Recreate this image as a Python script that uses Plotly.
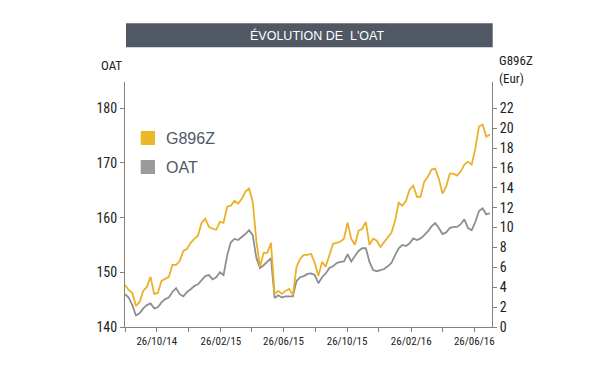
import plotly.graph_objects as go
import pandas as pd

start_date = "2014-08-26"
n_obs = 101
dates = pd.date_range(start_date, periods=n_obs, freq="7D")

g896z = [4.23, 3.73, 3.43, 2.12, 2.52, 3.63, 4.03, 5.04, 3.33, 3.43,
         4.64, 4.84, 5.04, 6.25, 6.25, 6.65, 7.66, 7.86, 8.47, 8.87,
         9.17, 10.48, 10.89, 10.08, 9.88, 9.78, 10.58, 10.48, 12.10, 12.20,
         12.70, 12.40, 12.90, 13.61, 13.91, 12.60, 8.67, 6.05, 7.46, 7.46,
         8.47, 3.33, 3.63, 3.33, 3.63, 3.83, 3.23, 6.05, 6.85, 7.26,
         7.26, 7.36, 6.45, 5.14, 6.55, 6.05, 7.16, 8.37, 8.47, 8.57,
         8.87, 10.48, 8.87, 8.27, 9.68, 9.88, 10.58, 8.27, 8.87, 8.67,
         8.06, 8.57, 9.07, 9.48, 10.69, 12.50, 12.20, 12.70, 13.81, 14.21,
         13.10, 13.10, 14.62, 15.12, 15.83, 15.93, 14.92, 13.41, 14.11, 15.42,
         15.42, 15.22, 15.63, 16.33, 16.63, 16.33, 17.94, 20.16, 20.36, 19.15,
         19.35]

oat = [146.0, 145.4, 144.0, 142.1, 142.5, 143.4, 144.0, 144.3, 143.4, 143.6,
       144.5, 145.1, 145.4, 146.4, 147.1, 146.0, 145.6, 146.4, 146.9, 147.5,
       147.8, 148.6, 149.3, 149.5, 148.7, 149.1, 150.0, 149.5, 153.1, 155.5,
       156.1, 155.9, 156.4, 157.0, 157.7, 156.8, 152.6, 150.8, 151.3, 151.9,
       152.6, 145.3, 145.8, 145.4, 145.6, 145.6, 145.6, 148.4, 149.1, 149.3,
       149.7, 149.8, 149.5, 148.0, 149.1, 149.8, 150.8, 151.1, 151.7, 151.9,
       152.0, 153.3, 152.0, 153.0, 153.9, 154.4, 154.4, 151.9, 150.4, 150.2,
       150.4, 150.6, 151.1, 151.7, 153.1, 154.4, 155.0, 154.8, 155.3, 156.2,
       155.9, 156.2, 156.8, 157.5, 158.4, 159.0, 158.1, 157.0, 157.3, 158.1,
       158.3, 158.3, 158.8, 159.7, 158.1, 157.7, 159.2, 161.2, 161.7, 160.6,
       160.8]

tick_dates = ["2014-08-26", "2014-10-26", "2014-12-26", "2015-02-26",
              "2015-04-26", "2015-06-26", "2015-08-26", "2015-10-26",
              "2015-12-26", "2016-02-26", "2016-04-26", "2016-06-26"]
tick_text = ["", "26/10/14", "", "26/02/15", "", "26/06/15",
             "", "26/10/15", "", "26/02/16", "", "26/06/16"]

left_ticks = [140, 150, 160, 170, 180]
right_ticks = [0, 2, 4, 6, 8, 10, 12, 14, 16, 18, 20, 22]

title_text = "ÉVOLUTION DE\u00a0 L'OAT"
series_names = ["G896Z", "OAT"]

# ---- style ----
GOLD = "#EAB12B"
GREY = "#8E8E8E"
AXIS = "#857F78"
TXT = "#222222"
FN = "Liberation Sans Narrow, Arial Narrow, Roboto Condensed, sans-serif"
FR = "Liberation Sans, Arial, sans-serif"

fig = go.Figure()
fig.add_trace(go.Scatter(x=dates, y=oat, mode="lines", name=series_names[1],
                         line=dict(color=GREY, width=1.8), yaxis="y",
                         showlegend=False))
fig.add_trace(go.Scatter(x=dates, y=g896z, mode="lines", name=series_names[0],
                         line=dict(color=GOLD, width=1.8), yaxis="y2",
                         showlegend=False))

# page body adds an 8px offset, so margins are reduced accordingly
fig.update_layout(
    width=600, height=375,
    margin=dict(l=117, r=116, t=74, b=56, pad=0),
    paper_bgcolor="white", plot_bgcolor="white",
    showlegend=False,
    xaxis=dict(type="date", range=["2014-08-26", "2016-07-30"],
               tickvals=tick_dates, ticktext=tick_text,
               showgrid=False, zeroline=False, showline=True,
               linecolor=AXIS, linewidth=1, ticks="outside", ticklen=4,
               tickcolor=AXIS, tickfont=dict(family=FN, size=11, color=TXT)),
    yaxis=dict(range=[140, 184.8], tickvals=left_ticks,
               showgrid=False, zeroline=False, showline=True,
               linecolor=AXIS, linewidth=1, ticks="outside", ticklen=4,
               tickcolor=AXIS, tickfont=dict(family=FN, size=14, color=TXT)),
    yaxis2=dict(range=[0, 24.64], tickvals=right_ticks, overlaying="y",
                side="right", showgrid=False, zeroline=False, showline=True,
                linecolor=AXIS, linewidth=1, ticks="outside", ticklen=4,
                tickcolor=AXIS, tickfont=dict(family=FN, size=14, color=TXT)),
)

PW, PH = 367.0, 245.0
def px(x):
    return (x - 125) / PW
def py(y):
    return (327 - y) / PH

shapes = [
    dict(type="rect", xref="paper", yref="paper", x0=px(126), x1=px(492.7),
         y0=py(47.3), y1=py(23.3), fillcolor="#505863", line=dict(width=0), layer="above"),
    dict(type="rect", xref="paper", yref="paper", x0=px(140.7), x1=px(155),
         y0=py(145), y1=py(131), fillcolor="#EDB826", line=dict(width=0)),
    dict(type="rect", xref="paper", yref="paper", x0=px(140.7), x1=px(155),
         y0=py(174), y1=py(160), fillcolor="#9A9B9C", line=dict(width=0)),
]
annotations = [
    dict(text=title_text, xref="paper", yref="paper", x=px(317), y=py(35.5),
         xanchor="center", yanchor="middle", showarrow=False,
         font=dict(family=FR, size=12.5, color="white")),
    dict(text=series_names[0], xref="paper", yref="paper", x=px(164), y=py(138),
         xanchor="left", yanchor="middle", showarrow=False,
         font=dict(family=FR, size=16, color="#505868")),
    dict(text=series_names[1], xref="paper", yref="paper", x=px(164), y=py(167),
         xanchor="left", yanchor="middle", showarrow=False,
         font=dict(family=FR, size=16, color="#505868")),
    dict(text="OAT", xref="paper", yref="paper", x=px(98.5), y=py(65),
         xanchor="left", yanchor="middle", showarrow=False,
         font=dict(family=FN, size=13, color=TXT)),
    dict(text="G896Z", xref="paper", yref="paper", x=px(496.5), y=py(60),
         xanchor="left", yanchor="middle", showarrow=False,
         font=dict(family=FN, size=13, color=TXT)),
    dict(text="(Eur)", xref="paper", yref="paper", x=px(496.5), y=py(78),
         xanchor="left", yanchor="middle", showarrow=False,
         font=dict(family=FN, size=13, color=TXT)),
]
fig.update_layout(shapes=shapes, annotations=annotations)

fig.write_html("out.html")
